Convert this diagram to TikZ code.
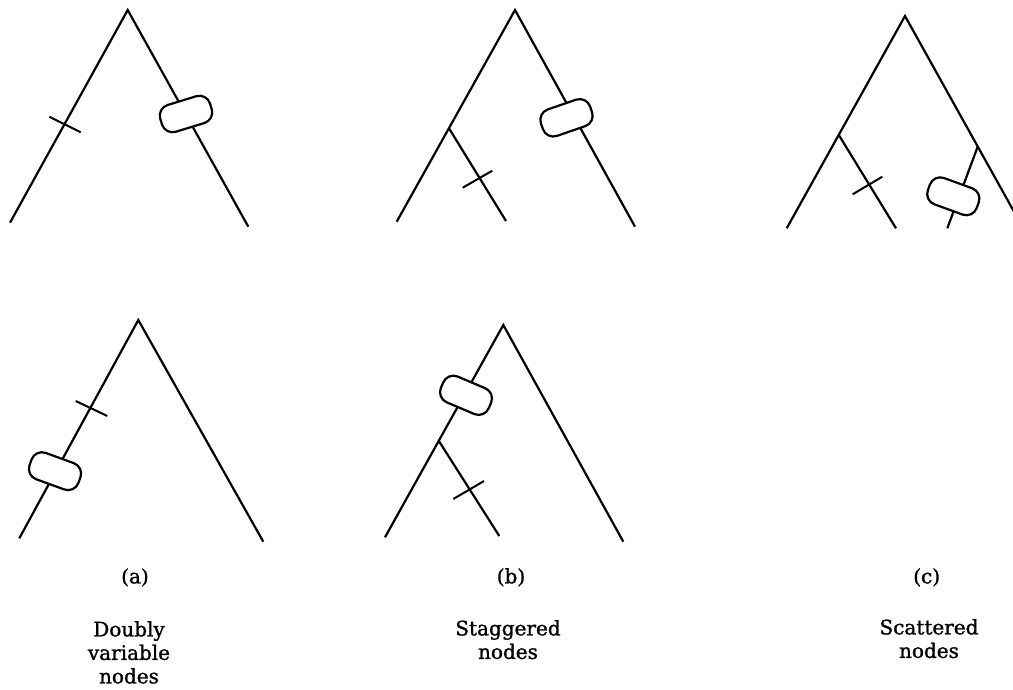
\documentclass[tikz,border=0pt]{standalone}
\usepackage{fontspec}
\setmainfont{DejaVu Serif}
\newfontfamily\capfont[BoldFont={DejaVu Serif},BoldFeatures={FakeBold=1.2}]{DejaVu Serif}
\begin{document}
\begin{tikzpicture}[x=1pt,y=-1pt,
  branch/.style={line width=2.2pt},
  tick/.style={line width=2pt},
  oval/.style={draw, line width=2.2pt, fill=white, rounded corners=11pt,
    minimum width=52pt, minimum height=28pt, inner sep=0pt},
  lbl/.style={font=\capfont\bfseries\fontsize{20}{23.5}\selectfont, align=center,
    inner sep=0pt, anchor=north}]
\clip (0,0) rectangle (1013,690);

% ---- (a), upper tree: one tick on the left edge, oval on the right edge
\coordinate (aT) at (127.7,10);
\coordinate (aL) at (10,222.7);
\coordinate (aR) at (248.3,226.7);
\draw[branch] (aL) -- (aT) -- (aR);
\coordinate (aX1) at (49.3,116.7);
\coordinate (aX2) at (80.7,132.3);
\draw[tick] (aX1) -- (aX2);
\node[oval, rotate=17] (aO) at (186,114) {};

% ---- (b), upper tree: tick on a side branch, oval on the right edge
\coordinate (bT) at (515,10);
\coordinate (bL) at (396.7,221.7);
\coordinate (bR) at (635,226.7);
\coordinate (bJ) at (449,128.3);
\coordinate (bE) at (506,221);
\draw[branch] (bL) -- (bT) -- (bR);
\draw[branch] (bJ) -- (bE);
\coordinate (bX1) at (462.7,187.7);
\coordinate (bX2) at (492.3,170.7);
\draw[tick] (bX1) -- (bX2);
\node[oval, rotate=19] (bO) at (566.5,117.8) {};

% ---- (c): tick and oval on two separate side branches
\coordinate (cT) at (905,16);
\coordinate (cL) at (786.7,228.3);
\coordinate (cR) at (1022,226);
\coordinate (cJ) at (838.8,135);
\coordinate (cE) at (896,228.3);
\coordinate (cK) at (977.7,146.7);
\coordinate (cF) at (947.3,228.3);
\draw[branch] (cL) -- (cT) -- (cR);
\draw[branch] (cJ) -- (cE);
\draw[branch] (cK) -- (cF);
\coordinate (cX1) at (852.7,194.3);
\coordinate (cX2) at (882.3,176.7);
\draw[tick] (cX1) -- (cX2);
\node[oval, rotate=-20] (cO) at (953.3,196.3) {};

% ---- (a), lower tree: tick and oval on the same (left) edge
\coordinate (dT) at (138.3,320);
\coordinate (dL) at (19.3,538.3);
\coordinate (dR) at (263.3,541.7);
\draw[branch] (dL) -- (dT) -- (dR);
\coordinate (dX1) at (75.7,401);
\coordinate (dX2) at (107.3,416);
\draw[tick] (dX1) -- (dX2);
\node[oval, rotate=-20] (dO) at (55,471.2) {};

% ---- (b), lower tree: oval above the fork, tick on the side branch
\coordinate (eT) at (503.3,325);
\coordinate (eL) at (385,537.3);
\coordinate (eR) at (623.3,541.7);
\coordinate (eJ) at (439.3,441.7);
\coordinate (eE) at (499.3,536);
\draw[branch] (eL) -- (eT) -- (eR);
\draw[branch] (eJ) -- (eE);
\coordinate (eX1) at (453.3,499);
\coordinate (eX2) at (484,481);
\draw[tick] (eX1) -- (eX2);
\node[oval, rotate=-23] (eO) at (466,395.3) {};

% ---- captions
\node[lbl] (la) at (135,568) {(a)};
\node[lbl] (lb) at (511,568) {(b)};
\node[lbl] (lc) at (926.7,568) {(c)};
\node[lbl] (ta) at (129,621) {Doubly\\variable\\nodes};
\node[lbl] (tb) at (508,620) {Staggered\\nodes};
\node[lbl] (tc) at (929,619) {Scattered\\nodes};
\end{tikzpicture}
\end{document}
